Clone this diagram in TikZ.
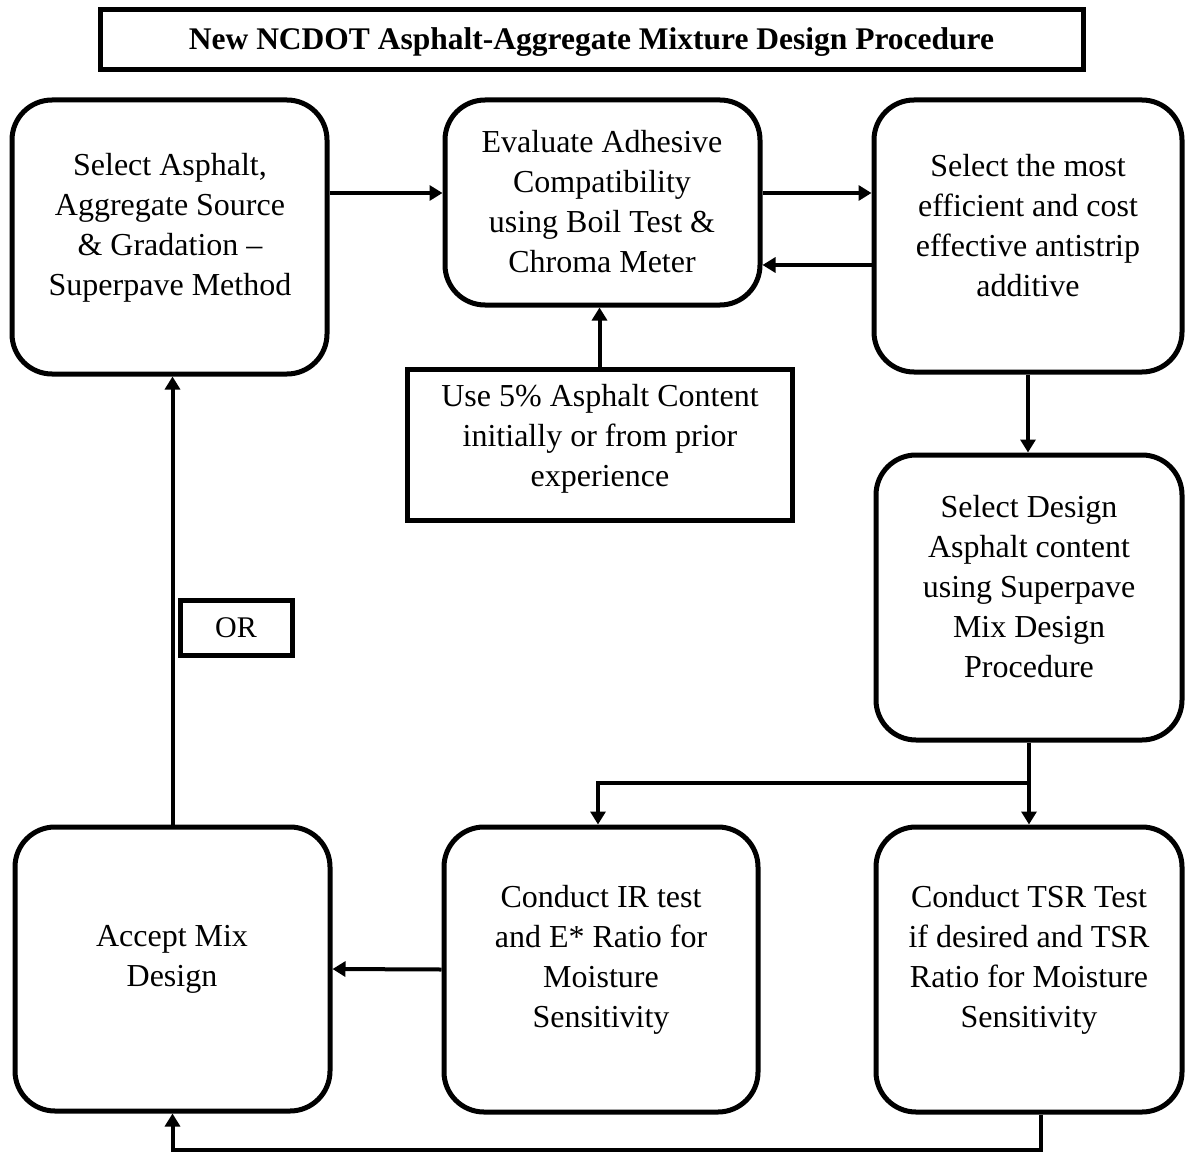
\documentclass[tikz,border=0pt]{standalone}
\usepackage{fontspec}
\setmainfont{Liberation Serif}
\usetikzlibrary{arrows.meta,calc}
\begin{document}
\begin{tikzpicture}[x=1pt,y=-1pt,
  rbox/.style={draw,line width=5pt,rounded corners=40pt,inner sep=0pt},
  sbox/.style={draw,line width=5pt,inner sep=0pt},
  txt/.style={align=center,inner sep=0pt,font=\fontsize{32}{40}\selectfont},
  arr/.style={line width=4pt,-{Triangle[length=13pt,width=15pt]}},
  ln/.style={line width=4pt}]
\useasboundingbox (0,0) rectangle (1186,1153);
% boxes
\node[sbox,minimum width=983pt,minimum height=60pt] (T) at (591.5,40) {};
\node[font=\fontsize{31.5}{36}\selectfont\bfseries,inner sep=0pt] (Tt) at (591.5,42) {New NCDOT Asphalt-Aggregate Mixture Design Procedure};
\node[rbox,minimum width=315pt,minimum height=274pt] (A) at (169.5,237) {};
\node[rbox,minimum width=315pt,minimum height=205pt] (B) at (602.5,202.5) {};
\node[rbox,minimum width=308pt,minimum height=272pt] (C) at (1028,236) {};
\node[sbox,minimum width=385pt,minimum height=151pt] (D) at (599.5,444.5) {};
\node[rbox,minimum width=306pt,minimum height=285pt] (E) at (1029,597.5) {};
\node[sbox,minimum width=112pt,minimum height=55pt,font=\fontsize{30}{36}\selectfont] (OR) at (236,627.5) {OR};
\node[rbox,minimum width=315pt,minimum height=284pt] (F) at (172.5,969) {};
\node[rbox,minimum width=314pt,minimum height=285pt] (G) at (601,969.5) {};
\node[rbox,minimum width=306pt,minimum height=285pt] (H) at (1029,969.5) {};
% texts
\node[txt] (At) at (170,228) {Select Asphalt,\\Aggregate Source\\\& Gradation –\\Superpave Method};
\node[txt] (Bt) at (602,202) {Evaluate Adhesive\\Compatibility\\using Boil Test \&\\Chroma Meter};
\node[txt] (Ct) at (1028,226) {Select the most\\efficient and cost\\effective antistrip\\additive};
\node[txt] (Dt) at (600,439) {Use 5\% Asphalt Content\\initially or from prior\\experience};
\node[txt] (Et) at (1029,587) {Select Design\\Asphalt content\\using Superpave\\Mix Design\\Procedure};
\node[txt] (Ft) at (172,959) {Accept Mix\\Design};
\node[txt] (Gt) at (601,960) {Conduct IR test\\and E* Ratio for\\Moisture\\Sensitivity};
\node[txt] (Ht) at (1029,960) {Conduct TSR Test\\if desired and TSR\\Ratio for Moisture\\Sensitivity};
% helper coordinates
\coordinate (y1) at (0,193);
\coordinate (y2) at (0,265);
\coordinate (spl) at (1029,783);
\coordinate (hb) at (1041,1150);
% connectors
\draw[arr] (A.east |- y1) -- (B.west |- y1);
\draw[arr] (B.east |- y1) -- (C.west |- y1);
\draw[arr] (C.west |- y2) -- (B.east |- y2);
\draw[arr] (D.north) -- (D.north |- B.south);
\draw[arr] (C.south) -- (C.south |- E.north);
\draw[ln] (E.south) -- (spl);
\draw[arr] (spl) -- (H.north);
\draw[arr] (spl) -| ([xshift=-3pt]G.north);
\draw[arr] (G.west) -- (F.east);
\draw[arr] (hb |- H.south) -- (hb) -| (F.south);
\draw[arr] (F.north) -- (F.north |- A.south);
\end{tikzpicture}
\end{document}
